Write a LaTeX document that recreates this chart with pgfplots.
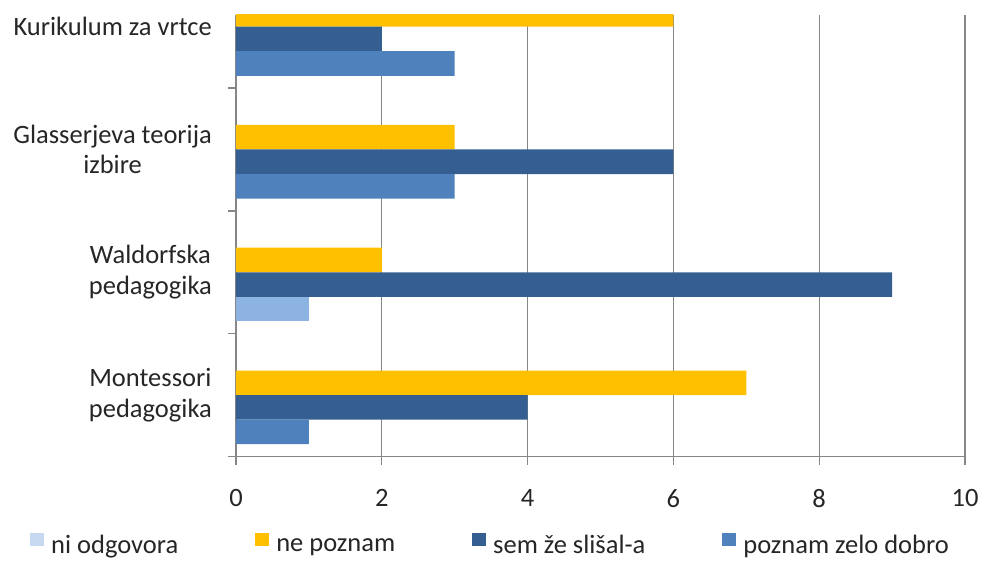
\documentclass[border=0pt]{standalone}
\usepackage{fontspec}
\setmainfont{Carlito}
\usepackage{pgfplots}
\pgfplotsset{compat=1.18}
\definecolor{neYellow}{HTML}{FFC000}
\definecolor{semBlue}{HTML}{365F91}
\definecolor{poznamBlue}{HTML}{4F81BD}
\definecolor{niBlue}{HTML}{8DB3E2}
\definecolor{niLegend}{HTML}{C6D9F1}
\definecolor{gridGray}{HTML}{868686}
\begin{document}
\begin{tikzpicture}
\begin{axis}[
    width=729pt, height=441.5pt, scale only axis,
    xbar, bar width=0.2,
    xmin=0, xmax=10, ymin=-0.5, ymax=3.095,
    axis x line*=bottom, axis y line*=left,
    axis line style={draw=gridGray, line width=1.3pt},
    xtick={0,2,...,10},
    ytick={-0.5,0.5,1.5,2.5}, yticklabels={},
    extra y ticks={0,1,2,3},
    extra y tick labels={{Montessori\\pedagogika},{Waldorfska\\pedagogika},{Glasserjeva teorija\\izbire},{Kurikulum za vrtce}},
    extra y tick style={major tick length=0pt},
    tick align=outside, major tick length=8pt,
    tick style={draw=gridGray, line width=1.3pt},
    xmajorgrids, major grid style={draw=gridGray, line width=1.3pt},
    /pgf/number format/assume math mode=true,
    ticklabel style={font=\fontsize{26.5}{30.5}\selectfont, text=black!85, inner sep=0pt},
    xticklabel style={yshift=-25pt},
    yticklabel style={align=center, xshift=-24pt},
    legend columns=4,
    legend style={draw=none, at={(axis description cs:0,0)}, anchor=west,
        xshift=-206pt, yshift=-87.5pt, inner sep=0pt,
        font=\fontsize{26.5}{30.5}\selectfont, text=black!85,
        nodes={inner sep=0pt},
        /tikz/every odd column/.append style={column sep=7pt},
        /tikz/every even column/.append style={column sep=77pt}},
    legend image code/.code={\fill[#1] (0pt,0pt) rectangle (14pt,13pt);},
]
% ne poznam
\addplot[fill=neYellow, draw=none, bar shift=0.1, forget plot] coordinates {
    (7,0) (2,1) (3,2) (6,3)};
% sem ze slisal-a
\addplot[fill=semBlue, draw=none, bar shift=-0.1, forget plot] coordinates {
    (4,0) (9,1) (6,2) (2,3)};
% poznam zelo dobro
\addplot[fill=poznamBlue, draw=none, bar shift=-0.3, forget plot] coordinates {
    (1,0) (3,2) (3,3)};
% ni odgovora
\addplot[fill=niBlue, draw=none, bar shift=-0.3, forget plot] coordinates {
    (1,1)};
\addlegendimage{fill=niLegend, draw=none}
\addlegendentry{ni odgovora}
\addlegendimage{fill=neYellow, draw=none}
\addlegendentry{ne poznam}
\addlegendimage{fill=semBlue, draw=none}
\addlegendentry{sem že slišal-a}
\addlegendimage{fill=poznamBlue, draw=none}
\addlegendentry{poznam zelo dobro}
\end{axis}
\pgfresetboundingbox
\path[use as bounding box] (-236pt,-103.5pt) rectangle (745pt,456.5pt);
\end{tikzpicture}
\end{document}
